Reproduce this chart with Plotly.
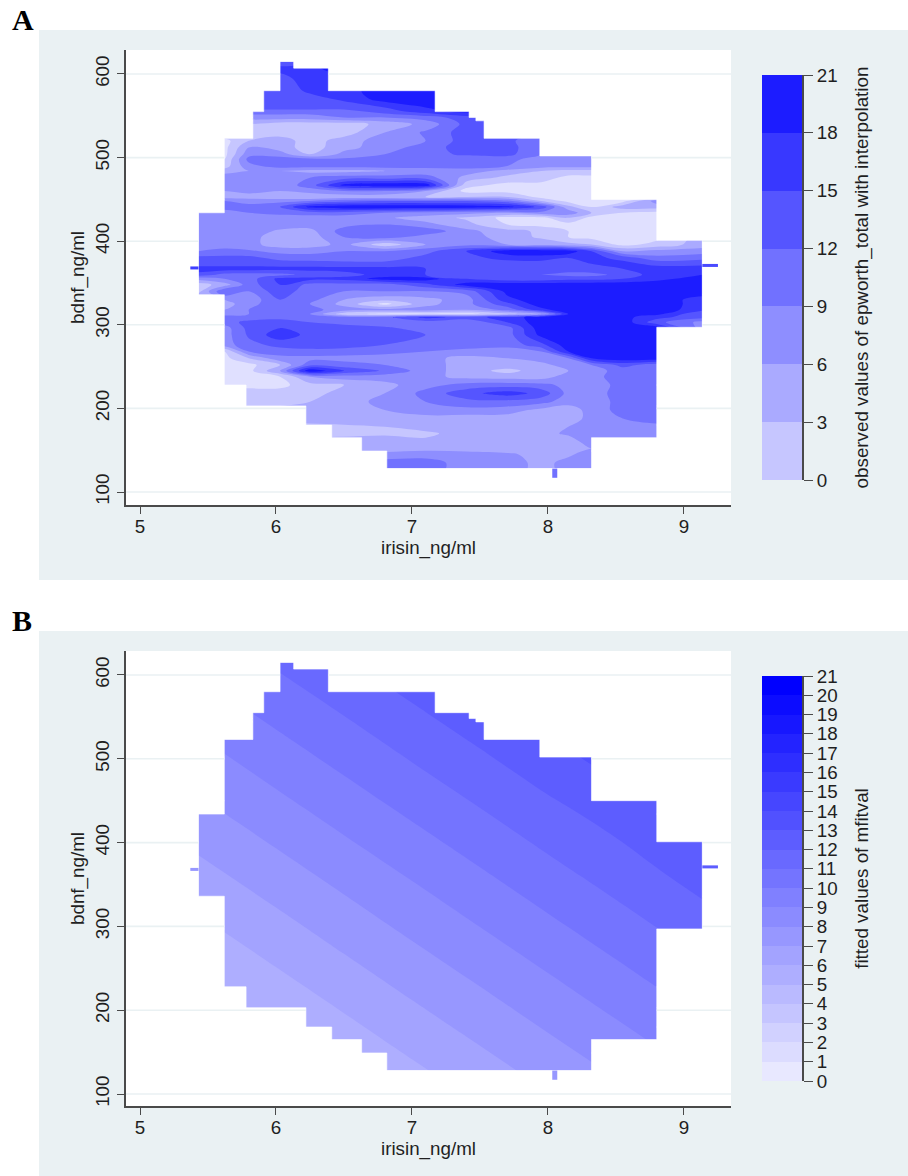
import plotly.graph_objects as go

# ---- data -----------------------------------------------------------------
irisin_ticks = [5, 6, 7, 8, 9]
bdnf_ticks = [100, 200, 300, 400, 500, 600]

# stepped outline of the observed data region (both panels)
outline_top    = [615, 607, 580, 555, 548, 544, 523, 502, 450, 434, 401, 336, 297, 228, 203, 180, 165, 149]
outline_bottom = [607, 580, 555, 548, 544, 523, 502, 450, 434, 401, 336, 297, 228, 203, 180, 165, 149, 128]
outline_left   = [6.03, 6.03, 5.91, 5.83, 5.83, 5.83, 5.62, 5.62, 5.62, 5.43, 5.43, 5.62, 5.62, 5.78, 6.22, 6.41, 6.63, 6.815]
outline_right  = [6.13, 6.385, 7.17, 7.42, 7.47, 7.53, 7.94, 8.32, 8.80, 8.80, 9.135, 9.135, 8.80, 8.80, 8.80, 8.80, 8.32, 8.32]

# panel A: observed epworth_total
a_x = [5.43, 5.62, 5.8, 6.03, 6.25, 6.5, 6.8, 7.1, 7.4, 7.7, 7.95, 8.15, 8.32, 8.55, 8.8, 9.135]
a_y = [615, 607, 595, 580, 570, 560, 555, 548, 540, 530, 520, 512, 504, 498, 490, 484, 476, 467, 460, 453, 448, 441,
       434, 428, 420, 412, 405, 396, 388, 380, 373, 367, 360, 355, 348, 340, 330, 325, 318, 313, 309, 303, 296, 288,
       276, 268, 260, 252, 245, 238, 228, 218, 208, 198, 188, 178, 170, 160, 152, 145, 135, 128]
a_z = [
 [12.5,12.5,12.5,12.5,12.5,12.5,12.5,12.5,12.5,12.5,12.5,12.5,12.5,12.5,12.5,12.5],
 [16,16,16,16,17,20,20,20,20,20,20,20,20,20,20,20],
 [14,14,14,14,16.5,17,17,20,20,20,20,20,20,20,20,20],
 [13.5,13.5,13.5,13.5,15.5,16.5,20,20,20,20,20,20,20,20,20,20],
 [13.5,13.5,13.5,13.5,14,15.5,19.5,20,20,20,20,20,20,20,20,20],
 [13.5,13.5,13.5,13.5,13.5,13.5,15,18,19.5,19.5,19.5,19.5,19.5,19.5,19.5,19.5],
 [10.5,10.5,10.5,10.5,10.5,10.5,13.5,16.5,19.5,19.5,19.5,19.5,19.5,19.5,19.5,19.5],
 [7.5,7.5,7.5,7.5,7.5,9,9,10.5,13.5,13.5,13.5,13.5,13.5,13.5,13.5,13.5],
 [3,3,3,1.5,1.5,1.5,4,7,13,13,13,13,13,13,13,13],
 [3,3,3,1.5,1.5,1.5,6,9.5,13.5,13.5,13.5,13.5,13.5,13.5,13.5,13.5],
 [-1,-1,3,4.5,1.5,4.5,7.5,9,13.5,13,9,9,9,9,9,9],
 [-1,-1,6,4.5,1.5,5,7.5,10.5,13.5,13.5,9,9,9,9,9,9],
 [-1,-1,8,7.5,2.5,7,9,11,12.5,13,9,9,9,9,9,9],
 [0,0,10,10.5,10,9.5,10,10.5,10,10,7.5,7.5,7.5,7.5,7.5,7.5],
 [1.5,1.5,8,10.5,10.5,10.5,10.5,10.5,10.5,9,7.5,7.5,7.5,7.5,7.5,7.5],
 [4.5,4.5,6,6,5,5,6,7,7.5,5,3,2,2,2,2,2],
 [8,8,7,7.5,9,10.5,10.5,10.5,5,2,1.5,-1,-1,-1,-1,-1],
 [8,8,8.5,7,10.5,19,20.5,20,1,-1,-1,-1,-1,-1,-1,-1],
 [6,6,7,6,7.5,9,9,6,-1,-1,-1,-1,-1,-1,-1,-1],
 [4.5,4.5,4.5,4,3,4,4,3,3,3,-1,-1,-1,-1,-1,-1],
 [9,9,8,8,9,11,12,12,12,10,3,-1,-1,-1,7.5,7.5],
 [10,10,10,12,19,20.5,20.5,20.5,20,19,14,4,0,4.5,4.5,4.5],
 [8,8,9,10,10.5,10.5,9,8,7,6,8,8,3,0,-1,-1],
 [7.5,7.5,7.5,7.5,7.5,7.5,6.5,4.5,2.5,-1,-1,3,-1,-1,-1,-1],
 [7.5,7.5,7.5,7.5,7.5,8,9,7,4,0,-1,-1,-1,-1,-1,-1],
 [7.5,7.5,7.5,5.5,5,10.5,11,11,7,4,2.5,0,-1,-1,-1,-1],
 [7.5,7.5,7,4.5,4.5,9,10.5,7.5,7.5,4.5,2.5,0,-1,-1,-1,4.5],
 [7.5,7.5,7,4.5,4.5,7,1,6,8,6,5,4,3,-1,1,4.5],
 [9,10,9.5,8,8,9,9,11,15,20,20.5,20,15,6,7,7.5],
 [13,13,13,11,10.5,10.5,10.5,13,14,16,16.5,15,16,14,10,11],
 [13.5,13.5,13.5,13.5,13.5,13,13,13,13.5,13.5,13.5,13.5,15,16,14,14],
 [16.5,16.5,16.5,16,16,16,16,15,14,14,13.5,13.5,14,15,16.5,17],
 [14,11,10.5,11,13,14,16,15,14,12,12,11,11,13,16.5,18],
 [7,9,10.5,16,16,16,19.5,19.5,15,13,13,14,14,15,17,19.5],
 [1.5,4.5,10.5,15,11,11,10.5,14,19.5,20,20,20,20,20,20,20],
 [2,12,9,14,10,9,9,9,10,19,20,20,20,20,20,20],
 [6,6,7,12,10,6,4,5,7.5,17,20,20,20,20,20,16.5],
 [4.5,4.5,8,11,9,5,-1,5,8,14,20,20,20,20,20,16.5],
 [6,6,9,11,10,7.5,7,7.5,6,10,17,20,20,20,20,16],
 [8,8,9,10,9,1,-1,-1,-1,2,5,18,20,20,19,12],
 [10,10,10,11,10.5,10.5,11,16,14,16,20,20,20,19,16,13],
 [10.5,10.5,13,13.5,12,11,10.5,10.5,9,15,20,20,20,20,13,8],
 [7.5,7.5,13,15,13.5,13.5,12.5,11,9,10.5,20,20,20,20,20,7.5],
 [7.5,7.5,12.5,17,14,13.5,13.5,12,10.5,10.5,19,20,20,20,20,20],
 [7.5,7.5,11,13,13.5,13.5,12,10.5,10.5,10,14,20,20,20,20,20],
 [0,0,9,10.5,11,10.5,10,9,8,7.5,9,18,20,20,20,20],
 [-1,-1,3,8,8,8,7.5,7,5,6,7.5,9,18,20,20,20],
 [-1,-1,-1,3,11,10,9,7.5,4.5,5,5,7.5,9,13,10.5,10.5],
 [-1,-1,-1,6,20.5,15,11.5,7.5,4.5,2,4.5,6,7.5,10.5,10.5,10.5],
 [-1,-1,-1,0,6,7.5,7.5,7,5,4.5,4.5,7.5,8,10.5,10.5,10.5],
 [-1,-1,-1,-1,2,3,5,8,10,10.5,10,8,7.5,10,10.5,10.5],
 [1.5,1.5,1.5,1.5,1.5,4.5,6,10,14,16.5,14,8,7.5,10.5,10.5,10.5],
 [1.5,1.5,1.5,1.5,3,4.5,7,9,11,11,10,7.5,7.5,10,10.5,10.5],
 [4.5,4.5,4.5,4.5,4.5,4.5,6,7.5,8,7.5,5,4,7.5,10,10.5,10.5],
 [4.5,4.5,4.5,4.5,4.5,4.5,4.5,5,4.5,4.5,4.5,4.5,7,9,10.5,10.5],
 [2,2,2,2,2,2.5,3,4,4.5,4.5,4.5,6,7.5,7.5,8,8],
 [2,2,2,2,2,2,2.5,2.5,4,4.5,5,6.5,7.5,7.5,8,8],
 [4.5,4.5,4.5,4.5,4.5,4.5,4.5,3.5,3,3,4,4.5,7.5,7.5,7.5,7.5],
 [4.5,4.5,4.5,4.5,4.5,4.5,4.5,5,4.5,4.5,4.5,5,6,6,6,6],
 [7,7,7,7,7,7,7,7.5,7.5,6.5,5,5.5,7.5,7.5,7.5,7.5],
 [10.5,10.5,10.5,10.5,10.5,10.5,10.5,10.5,7.5,7.5,5,7,7.5,7.5,7.5,7.5],
 [10.5,10.5,10.5,10.5,10.5,10.5,10.5,10.5,7.5,7.5,5,7,7.5,7.5,7.5,7.5],
]

# panel B: fitted values
b_x = [5.43, 6, 6.5, 7, 7.5, 8, 8.5, 9.135]
b_y = [128, 200, 280, 360, 440, 520, 615]
b_z = [
 [3.38, 4.26, 5.04, 5.81, 6.58, 7.36, 8.13, 9.12],
 [4.40, 5.28, 6.05, 6.83, 7.60, 8.38, 9.15, 10.14],
 [5.52, 6.40, 7.18, 7.96, 8.73, 9.50, 10.27, 11.26],
 [6.65, 7.53, 8.31, 9.08, 9.85, 10.63, 11.40, 12.39],
 [7.78, 8.66, 9.44, 10.21, 10.98, 11.76, 12.45, 13.00],
 [8.90, 9.79, 10.56, 11.34, 12.11, 12.89, 13.66, 14.65],
 [10.24, 11.13, 11.90, 12.68, 13.45, 14.23, 15.00, 15.99],
]

# thin spikes sticking out of the region
spike_left_x, spike_left_y = [5.37, 5.43], [368, 368]
spike_right_x, spike_right_y = [9.135, 9.25], [371, 371]
spike_bottom_x, spike_bottom_y = [8.05, 8.05], [128, 117]

# legends
a_levels = [0, 3, 6, 9, 12, 15, 18, 21]
b_levels = list(range(22))
a_colors = ['#e0e0ff', '#c6c6ff', '#aaaaff', '#8e8eff', '#7171ff', '#5555ff', '#3838ff', '#1c1cff']
b_colors = ['#e8e8ff', '#dcdcff', '#d1d1ff', '#c5c5ff', '#babaff', '#aeaeff', '#a3a3ff', '#9797ff',
            '#8b8bff', '#8080ff', '#7474ff', '#6969ff', '#5d5dff', '#5151ff', '#4646ff', '#3a3aff', '#2e2eff', '#2323ff',
            '#1717ff', '#0c0cff', '#0000ff']

a_title = 'observed values of epworth_total with interpolation'
b_title = 'fitted values of mfitval'

# ---- layout constants ------------------------------------------------------
W, H = 908, 1176
PALE = '#eaf1f3'
INK = '#1f1f1f'
SPINE = '#4a4a4a'
FONT = 'Liberation Sans'
X0, X1 = 4.897, 9.346
PAD_X, PAD_Y = 0.01, 1


def dx(a, b):
    return [a / W, b / W]


def dy(top, bottom):
    return [1 - bottom / H, 1 - top / H]


def scale(colors):
    n = len(colors) - 1
    return [[k / n, c] for k, c in enumerate(colors)]


def legend_scale(colors):
    n = len(colors)
    out = []
    for k, c in enumerate(colors):
        out += [[k / n, c], [(k + 1) / n, c]]
    return out


fig = go.Figure()


def mask_trace(xa, ya):
    # white covers the contour's bounding box outside the stepped outline
    xl, xr = min(outline_left) - PAD_X, max(outline_right) + PAD_X
    xs, ys = [], []
    for t, b, l, r in zip(outline_top, outline_bottom, outline_left, outline_right):
        xs += [xl, l, l, xl, xl, None, r, xr, xr, r, r, None]
        ys += [b, b, t, t, b, None, b, b, t, t, b, None]
    top, bottom = max(outline_top), min(outline_bottom)
    xs += [xl, xr, xr, xl, xl, None, xl, xr, xr, xl, xl, None]
    ys += [top, top, top + PAD_Y, top + PAD_Y, top, None, bottom - PAD_Y, bottom - PAD_Y, bottom, bottom, bottom - PAD_Y, None]
    return go.Scatter(x=xs, y=ys, xaxis=xa, yaxis=ya, mode='lines', fill='toself', fillcolor='white',
                      line=dict(width=0.6, color='white'), hoverinfo='skip')


def grid_trace(xa, ya):
    xs, ys = [], []
    for tick in bdnf_ticks:
        spans = [(l, r) for t, b, l, r in zip(outline_top, outline_bottom, outline_left, outline_right) if b <= tick < t]
        if spans:
            l, r = spans[0]
            xs += [X0, l, None, r, X1, None]
            ys += [tick, tick, None, tick, tick, None]
        else:
            xs += [X0, X1, None]
            ys += [tick, tick, None]
    return go.Scatter(x=xs, y=ys, xaxis=xa, yaxis=ya, mode='lines', hoverinfo='skip',
                      line=dict(color=PALE, width=1.6))


def spike(xa, ya, x, y, color, width):
    return go.Scatter(x=x, y=y, xaxis=xa, yaxis=ya, mode='lines', hoverinfo='skip',
                      line=dict(color=color, width=width))


# panel A
fig.add_trace(go.Contour(x=a_x, y=a_y[::-1], z=a_z[::-1], xaxis='x', yaxis='y', showscale=False, hoverinfo='skip',
                         autocontour=False, contours=dict(coloring='fill', start=0, end=18, size=3, showlines=False),
                         line=dict(width=0), colorscale=scale(a_colors)))
fig.add_trace(mask_trace('x', 'y'))
fig.add_trace(grid_trace('x', 'y'))
fig.add_trace(spike('x', 'y', spike_left_x, spike_left_y, '#3f3fff', 3))
fig.add_trace(spike('x', 'y', spike_right_x, spike_right_y, '#4a4aff', 3))
fig.add_trace(spike('x', 'y', spike_bottom_x, spike_bottom_y, '#7171ff', 5))

# legend A
fig.add_trace(go.Heatmap(x=[0, 1], y=a_levels, z=[[(p + q) / 2] for p, q in zip(a_levels, a_levels[1:])],
                         xaxis='x2', yaxis='y2', showscale=False, hoverinfo='skip', zmin=0, zmax=21,
                         colorscale=legend_scale(a_colors[1:])))

# panel B
fig.add_trace(go.Contour(x=b_x, y=b_y, z=b_z, xaxis='x3', yaxis='y3', showscale=False, hoverinfo='skip',
                         autocontour=False, contours=dict(coloring='fill', start=1, end=20, size=1, showlines=False),
                         line=dict(width=0), colorscale=scale(b_colors)))
fig.add_trace(mask_trace('x3', 'y3'))
fig.add_trace(grid_trace('x3', 'y3'))
fig.add_trace(spike('x3', 'y3', spike_left_x, spike_left_y, '#9797ff', 3))
fig.add_trace(spike('x3', 'y3', spike_right_x, spike_right_y, '#5d5dff', 3))
fig.add_trace(spike('x3', 'y3', spike_bottom_x, spike_bottom_y, '#9797ff', 5))

# legend B
fig.add_trace(go.Heatmap(x=[0, 1], y=b_levels, z=[[(p + q) / 2] for p, q in zip(b_levels, b_levels[1:])],
                         xaxis='x4', yaxis='y4', showscale=False, hoverinfo='skip', zmin=0, zmax=21,
                         colorscale=legend_scale(b_colors)))

common_axis = dict(showgrid=False, zeroline=False, showline=True, linecolor=SPINE, linewidth=2,
                   ticks='outside', ticklen=7, tickwidth=1.3, tickcolor=SPINE, automargin=False,
                   tickfont=dict(family=FONT, size=18.8, color=INK))
title_font = dict(family=FONT, size=18.8, color=INK)


def main_axes(top, bottom, yr):
    x = dict(common_axis, domain=dx(126, 731), range=[X0, X1], tickvals=irisin_ticks, ticklabelstandoff=-4,
             title=dict(text='irisin_ng/ml', font=title_font, standoff=0))
    y = dict(common_axis, domain=dy(top, bottom), range=yr, tickvals=bdnf_ticks, tickangle=-90,
             title=dict(text='bdnf_ng/ml', font=title_font, standoff=3))
    return x, y


def legend_axes(top, bottom, levels, title):
    x = dict(domain=dx(762, 802), range=[0, 1], visible=False, fixedrange=True)
    y = dict(common_axis, domain=dy(top, bottom), range=[0, 21], tickvals=levels, side='right',
             ticklen=9, title=dict(text=title, font=title_font, standoff=18))
    return x, y


xa1, ya1 = main_axes(50, 505, [84.45, 628.7])
xa2, ya2 = legend_axes(75, 480, a_levels, a_title)
xa3, ya3 = main_axes(651, 1106, [85.7, 628.6])
xa4, ya4 = legend_axes(676, 1081, b_levels, b_title)
xa1.update(anchor='y'); ya1.update(anchor='x')
xa2.update(anchor='y2'); ya2.update(anchor='x2')
xa3.update(anchor='y3'); ya3.update(anchor='x3')
xa4.update(anchor='y4'); ya4.update(anchor='x4')


def strip(x0, x1, top, bottom):
    # white page margins around the pale panels
    return dict(type='rect', xref='paper', yref='paper', x0=x0 / W, x1=x1 / W, y0=1 - bottom / H, y1=1 - top / H,
                fillcolor='white', line=dict(width=0), layer='below')


fig.update_layout(
    width=W, height=H, autosize=False, margin=dict(l=0, r=0, t=0, b=0, pad=0, autoexpand=False),
    paper_bgcolor=PALE, plot_bgcolor='white', showlegend=False,
    xaxis=xa1, yaxis=ya1, xaxis2=xa2, yaxis2=ya2, xaxis3=xa3, yaxis3=ya3, xaxis4=xa4, yaxis4=ya4,
    shapes=[strip(0, 39, 0, H), strip(0, W, 0, 30), strip(0, W, 580, 631)],
    annotations=[
        dict(text='<b>A</b>', xref='paper', yref='paper', x=10 / W, y=1 - 38 / H, xanchor='left', yanchor='bottom',
             showarrow=False, font=dict(family='Liberation Serif', size=30, color='black')),
        dict(text='<b>B</b>', xref='paper', yref='paper', x=10 / W, y=1 - 639 / H, xanchor='left', yanchor='bottom',
             showarrow=False, font=dict(family='Liberation Serif', size=30, color='black')),
    ],
)

fig.write_html('out.html', config={'displayModeBar': False},
               post_script="document.body.style.margin='0';document.documentElement.style.overflow='hidden';")
